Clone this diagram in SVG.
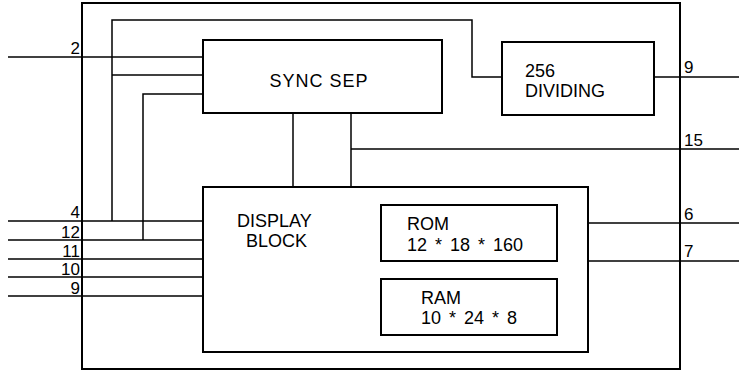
<svg xmlns="http://www.w3.org/2000/svg" width="739" height="372" viewBox="0 0 739 372">
<style>
.box{fill:none;stroke:#000;stroke-width:2}
.w{fill:none;stroke:#000;stroke-width:1.5}
text{font-family:"Liberation Sans",Arial,sans-serif;font-size:18px;fill:#000}
.r{text-anchor:end;font-size:17px}
.p{font-size:17px}
.n{word-spacing:3px}
</style>
<rect width="739" height="372" fill="#fff"/>
<g id="chip"><rect class="box" x="82" y="3" width="598" height="366"/></g>
<g id="connectors">
<polyline class="w" points="8,57 203,57"/>
<polyline class="w" points="112,221 112,20 472,20 472,77 502,77"/>
<polyline class="w" points="112,75 203,75"/>
<polyline class="w" points="143,240 143,94 203,94"/>
<polyline class="w" points="293,113 293,187"/>
<polyline class="w" points="351,113 351,187"/>
<polyline class="w" points="351,149 739,149"/>
<polyline class="w" points="654,77 739,77"/>
<polyline class="w" points="588,223 739,223"/>
<polyline class="w" points="588,261 739,261"/>
<polyline class="w" points="8,221 203,221"/>
<polyline class="w" points="8,240 203,240"/>
<polyline class="w" points="8,259 203,259"/>
<polyline class="w" points="8,277 203,277"/>
<polyline class="w" points="8,296 203,296"/>
</g>
<g id="pins">
<text class="r" x="80" y="54">2</text>
<text class="r" x="80" y="218">4</text>
<text class="r" x="80" y="238">12</text>
<text class="r" x="80" y="257">11</text>
<text class="r" x="80" y="275">10</text>
<text class="r" x="80" y="294">9</text>
<text class="p" x="684" y="73">9</text>
<text class="p" x="684" y="146">15</text>
<text class="p" x="684" y="220">6</text>
<text class="p" x="684" y="257">7</text>
</g>
<g id="sync-sep"><rect class="box" x="203" y="40" width="239" height="73"/><text x="319" y="87" text-anchor="middle" font-size="19" letter-spacing="1">SYNC SEP</text></g>
<g id="dividing"><rect class="box" x="502" y="42" width="152" height="73"/><text x="525" y="77">256</text><text x="525" y="97">DIVIDING</text></g>
<g id="display-block"><rect class="box" x="203" y="187" width="385" height="165"/><text x="237" y="227">DISPLAY</text><text x="246" y="247">BLOCK</text></g>
<g id="rom"><rect class="box" x="381" y="205" width="176" height="56"/><text x="407" y="230">ROM</text><text class="n" x="407" y="251">12 * 18 * 160</text></g>
<g id="ram"><rect class="box" x="381" y="279" width="176" height="56"/><text x="421" y="304">RAM</text><text class="n" x="421" y="324">10 * 24 * 8</text></g>
</svg>
